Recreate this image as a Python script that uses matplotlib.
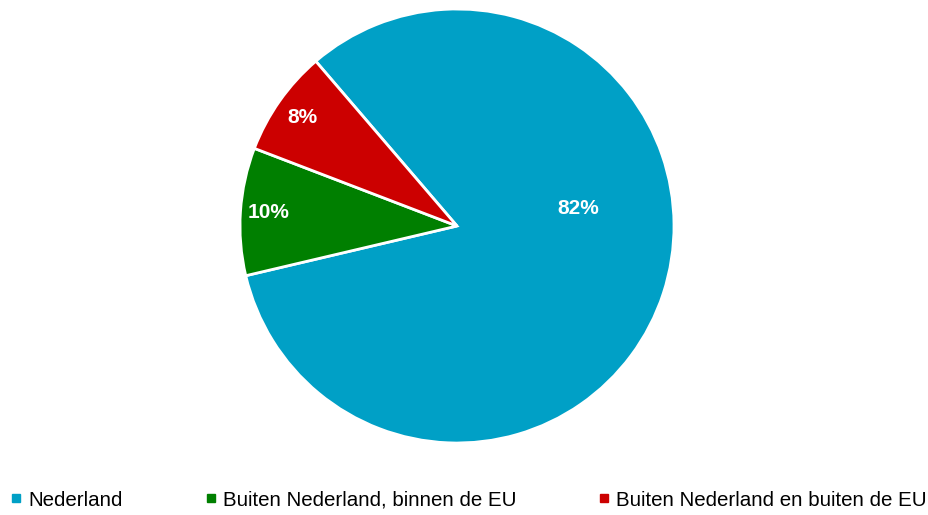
import matplotlib.pyplot as plt
from matplotlib.lines import Line2D

# data
categories = ["Nederland", "Buiten Nederland, binnen de EU", "Buiten Nederland en buiten de EU"]
shares = [82.6, 9.5, 7.9]
labels = ["82%", "10%", "8%"]
colors = ["#00A0C6", "#007F00", "#CC0000"]

plt.rcParams['font.family'] = ['Liberation Sans', 'DejaVu Sans']

fig = plt.figure(figsize=(9.29, 5.15), dpi=100)
# pie centre (457, 226) px, radius 217 px
ax = fig.add_axes([(457 - 217) / 929, (515 - 226 - 217) / 515, 434 / 929, 434 / 515])

wedges, _ = ax.pie(shares, colors=colors, startangle=130.6, counterclock=False,
                   radius=1.0, wedgeprops=dict(edgecolor="white", linewidth=2))
ax.set_xlim(-1, 1)
ax.set_ylim(-1, 1)
ax.set_aspect("equal")
ax.axis("off")

# label positions roughly where the original puts them
label_pos = [(0.56, 0.08), (-0.87, 0.06), (-0.71, 0.50)]
for lab, (x, y) in zip(labels, label_pos):
    ax.text(x, y, lab, ha="center", va="center", color="white",
            fontsize=15, fontweight="bold")

handles = [Line2D([], [], marker="s", linestyle="none", markersize=5.5,
                  markerfacecolor=c, markeredgecolor=c) for c in colors]
fig.legend(handles, categories, loc="center", bbox_to_anchor=(469 / 929, 1 - 500 / 515),
           ncol=3, frameon=False, fontsize=14.8, columnspacing=4.0,
           handlelength=0.5, handletextpad=0.35)

fig.savefig("out.png", dpi=100)
